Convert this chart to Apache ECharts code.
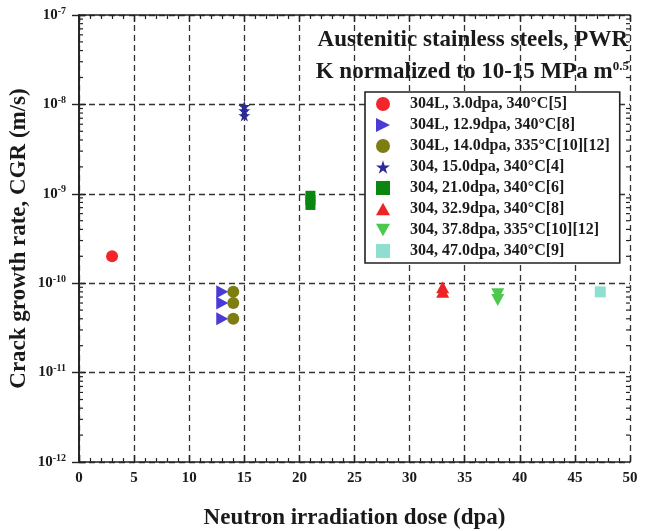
<!DOCTYPE html>
<html>
<head>
<meta charset="utf-8">
<script src="https://cdn.jsdelivr.net/npm/echarts@6/dist/echarts.min.js"></script>
<style>html,body{margin:0;padding:0;background:#fff;}#c{width:646px;height:531px;}</style>
</head>
<body>
<div id="c"></div>
<script>
// ---- data ----
const seriesNames = [
  '304L, 3.0dpa, 340°C[5]',
  '304L, 12.9dpa, 340°C[8]',
  '304L, 14.0dpa, 335°C[10][12]',
  '304, 15.0dpa, 340°C[4]',
  '304, 21.0dpa, 340°C[6]',
  '304, 32.9dpa, 340°C[8]',
  '304, 37.8dpa, 335°C[10][12]',
  '304, 47.0dpa, 340°C[9]'
];
const s1Dose = [3];            const s1CGR = [2e-10];
const s2Dose = [13, 13, 13];   const s2CGR = [8e-11, 6e-11, 4e-11];
const s3Dose = [14, 14, 14];   const s3CGR = [8e-11, 6e-11, 4e-11];
const s4Dose = [15, 15, 15];   const s4CGR = [9.5e-9, 8.5e-9, 7.5e-9];
const s5Dose = [21, 21, 21];   const s5CGR = [9.5e-10, 8.5e-10, 7.5e-10];
const s6Dose = [33, 33];       const s6CGR = [9e-11, 8e-11];
const s7Dose = [38, 38];       const s7CGR = [7.5e-11, 6.5e-11];
const s8Dose = [47.3];         const s8CGR = [8e-11];
const yDecades = [1e-12, 1e-11, 1e-10, 1e-9, 1e-8, 1e-7];
const minorMantissas = [2, 3, 4, 5, 6, 7, 8, 9];

const FONT = '"Liberation Serif", "DejaVu Serif", serif';
const TXT = '#1a1a1a';
const pairs = (xs, ys) => xs.map((x, i) => [x, ys[i]]);
const STAR = 'path://M50,0 L61,35 L98,35 L68,57 L79,91 L50,70 L21,91 L32,57 L2,35 L39,35 Z';
const TRI_RIGHT = 'path://M0,0 L10,5 L0,10 Z';
const TRI_DOWN = 'path://M0,0 L10,0 L5,9 Z';
const TRI_UP = 'path://M5,0 L10,9 L0,9 Z';

const styles = [
  {symbol: 'circle', size: 12, color: '#f2262a'},
  {symbol: TRI_RIGHT, size: [12, 13], color: '#4b3bd6'},
  {symbol: 'circle', size: 12, color: '#7d7d12'},
  {symbol: STAR, size: 12, color: '#2b2a98'},
  {symbol: 'rect', size: 10, color: '#0b870f'},
  {symbol: TRI_UP, size: [13, 12], color: '#ec2426'},
  {symbol: TRI_DOWN, size: [13, 12], color: '#4cc94c'},
  {symbol: 'rect', size: 11, color: '#8fdfd0'}
];
const dataSets = [
  pairs(s1Dose, s1CGR), pairs(s2Dose, s2CGR), pairs(s3Dose, s3CGR), pairs(s4Dose, s4CGR),
  pairs(s5Dose, s5CGR), pairs(s6Dose, s6CGR), pairs(s7Dose, s7CGR), pairs(s8Dose, s8CGR)
];

const minorLogValues = [];
yDecades.slice(0, -1).forEach(d => minorMantissas.forEach(m => minorLogValues.push(m * d)));

function logLabel(v) {
  const e = Math.round(Math.log10(v));
  return '{b|10}{s|' + e + '}';
}

const chart = echarts.init(document.getElementById('c'), null, {renderer: 'canvas'});

const scatterSeries = seriesNames.map((n, i) => ({
  name: n,
  type: 'scatter',
  xAxisIndex: 0, yAxisIndex: 0,
  symbol: styles[i].symbol,
  symbolSize: styles[i].size,
  itemStyle: {color: styles[i].color, opacity: 1},
  data: dataSets[i],
  z: 5
}));

const minorTickSeries = {
  type: 'custom',
  silent: true,
  xAxisIndex: 0, yAxisIndex: 0,
  data: minorLogValues,
  z: 4,
  renderItem: function (params, api) {
    const v = api.value(0);
    const l = api.coord([0, v]);
    const r = api.coord([50, v]);
    return {
      type: 'group',
      children: [
        {type: 'line', shape: {x1: l[0], y1: l[1], x2: l[0] + 4, y2: l[1]}, style: {stroke: '#222', lineWidth: 1.2}},
        {type: 'line', shape: {x1: r[0] - 4, y1: r[1], x2: r[0], y2: r[1]}, style: {stroke: '#222', lineWidth: 1.2}}
      ]
    };
  },
  encode: {y: 0}
};

const axisLineStyle = {color: '#222', width: 1.6};
const splitLineStyle = {color: '#333', width: 1.3, type: [6, 4]};

const option = {
  backgroundColor: '#ffffff',
  animation: false,
  title: [
    {text: 'Austenitic stainless steels, PWR', right: 13, top: 24,
     textStyle: {fontFamily: FONT, fontWeight: 'bold', fontSize: 23, color: TXT}},
    {text: 'K normalized to 10-15 MPa m{s|0.5}', right: 12, top: 55,
     textStyle: {fontFamily: FONT, fontWeight: 'bold', fontSize: 23, color: TXT,
       rich: {s: {fontFamily: FONT, fontWeight: 'bold', fontSize: 13, color: TXT, verticalAlign: 'top', padding: [0, 0, 12, 0]}}}}
  ],
  legend: {
    orient: 'vertical',
    left: 365, top: 92,
    data: seriesNames,
    itemWidth: 14, itemHeight: 14,
    itemGap: 5,
    padding: [4, 10, 4, 11],
    borderColor: '#222', borderWidth: 1.6,
    backgroundColor: '#fff',
    textStyle: {fontFamily: FONT, fontWeight: 'bold', fontSize: 16, color: TXT, padding: [0, 0, 0, 15]},
    selectedMode: false
  },
  grid: {left: 79, right: 16, top: 15, bottom: 69, containLabel: false, outerBoundsMode: 'none'},
  xAxis: [
    {type: 'value', min: 0, max: 50, interval: 5, position: 'bottom',
     name: 'Neutron irradiation dose (dpa)', nameLocation: 'middle', nameGap: 45,
     nameTextStyle: {fontFamily: FONT, fontWeight: 'bold', fontSize: 23, color: TXT},
     axisLine: {show: true, lineStyle: axisLineStyle},
     axisTick: {show: true, inside: true, length: 7, lineStyle: {color: '#222', width: 1.4}},
     minorTick: {show: true, splitNumber: 5, length: 4, lineStyle: {color: '#222', width: 1.2}},
     axisLabel: {fontFamily: FONT, fontWeight: 'bold', fontSize: 15, color: TXT, margin: 9},
     splitLine: {show: true, lineStyle: splitLineStyle}},
    {type: 'value', min: 0, max: 50, interval: 5, position: 'top',
     axisLine: {show: true, lineStyle: axisLineStyle},
     axisTick: {show: true, inside: true, length: 7, lineStyle: {color: '#222', width: 1.4}},
     minorTick: {show: true, splitNumber: 5, length: 4, lineStyle: {color: '#222', width: 1.2}},
     axisLabel: {show: false}, splitLine: {show: false}}
  ],
  yAxis: [
    {type: 'log', logBase: 10, min: 1e-12, max: 1e-7, position: 'left',
     name: 'Crack growth rate, CGR (m/s)', nameLocation: 'middle', nameGap: 48, nameRotate: 90,
     nameMoveOverlap: false,
     nameTextStyle: {fontFamily: FONT, fontWeight: 'bold', fontSize: 23, color: TXT},
     axisLine: {show: true, lineStyle: axisLineStyle},
     axisTick: {show: true, inside: true, length: 7, lineStyle: {color: '#222', width: 1.4}},
     axisLabel: {margin: 13, formatter: logLabel,
       rich: {
         b: {fontFamily: FONT, fontWeight: 'bold', fontSize: 15, color: TXT},
         s: {fontFamily: FONT, fontWeight: 'bold', fontSize: 10, color: TXT, verticalAlign: 'top', padding: [0, 0, 8, 0]}
       }},
     splitLine: {show: true, lineStyle: splitLineStyle}},
    {type: 'log', logBase: 10, min: 1e-12, max: 1e-7, position: 'right',
     axisLine: {show: true, lineStyle: axisLineStyle},
     axisTick: {show: true, inside: true, length: 7, lineStyle: {color: '#222', width: 1.4}},
     axisLabel: {show: false}, splitLine: {show: false}}
  ],
  series: scatterSeries.concat([minorTickSeries])
};
chart.setOption(option);
</script>
</body>
</html>
